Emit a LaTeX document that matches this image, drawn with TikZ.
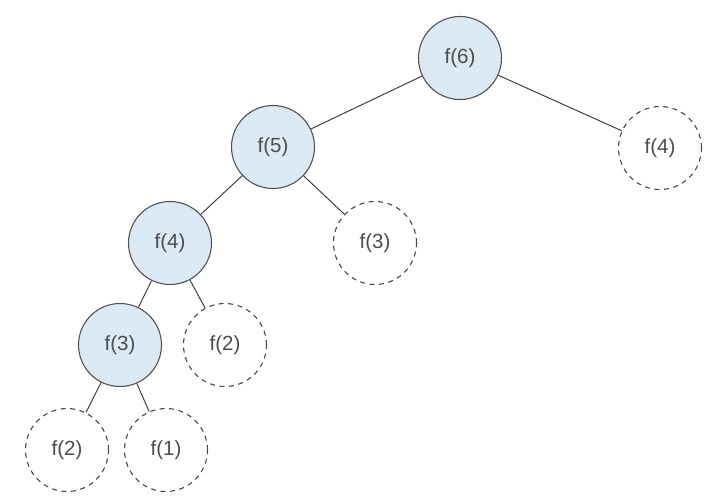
\documentclass[tikz,border=0pt]{standalone}
\usepackage{fontspec}
\setmainfont{Liberation Sans}
\begin{document}
\begin{tikzpicture}[x=1pt,y=-1pt,
  every node/.style={circle,minimum size=83pt,inner sep=0pt,font=\fontsize{20.5}{22}\selectfont,text=black!70},
  callnode/.style={draw=black!68,line width=1.1pt,fill={rgb,255:red,220;green,234;blue,246}},
  dupnode/.style={draw=black!72,line width=1.1pt,dash pattern=on 5pt off 4.5pt},
  edge/.style={draw=black!75,line width=1pt}]
\useasboundingbox (0,0) rectangle (720,496);
\node[callnode] (f6) at (460,58) {f(6)};
\node[callnode] (f5) at (273,147) {f(5)};
\node[dupnode] (f4b) at (660,148) {f(4)};
\node[callnode] (f4) at (170,243) {f(4)};
\node[dupnode] (f3b) at (375,243) {f(3)};
\node[callnode] (f3) at (120,345) {f(3)};
\node[dupnode] (f2b) at (225,345) {f(2)};
\node[dupnode] (f2) at (67,450) {f(2)};
\node[dupnode] (f1) at (166,450) {f(1)};
\draw[edge] (f6) -- (f5);
\draw[edge] (f6) -- (f4b);
\draw[edge] (f5) -- (f4);
\draw[edge] (f5) -- (f3b);
\draw[edge] (f4) -- (f3);
\draw[edge] (f4) -- (f2b);
\draw[edge] (f3) -- (f2);
\draw[edge] (f3) -- (f1);
\end{tikzpicture}
\end{document}
